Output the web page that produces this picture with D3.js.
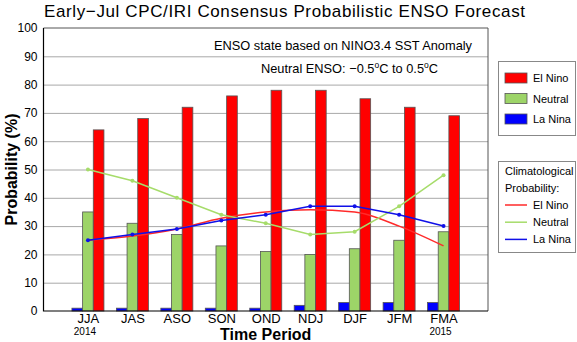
<!DOCTYPE html>
<html>
<head>
<meta charset="utf-8">
<script src="https://cdn.jsdelivr.net/npm/d3@7"></script>
<style>
  body { margin: 0; background: #fff; }
  svg text { font-family: "Liberation Sans", Arial, sans-serif; }
</style>
</head>
<body>
<div id="chart"></div>
<script>
// data
const periods = ["JJA", "JAS", "ASO", "SON", "OND", "NDJ", "DJF", "JFM", "FMA"];
const elNino = [64, 68, 72, 76, 78, 78, 75, 72, 69];
const neutral = [35, 31, 27, 23, 21, 20, 22, 25, 28];
const laNina = [1, 1, 1, 1, 1, 2, 3, 3, 3];
// climatological probability lines
const climElNino = [25, 26.5, 29, 32.8, 35, 35.8, 35, 30, 23];
const climNeutral = [50, 46, 40, 34, 31, 27, 28, 37, 48];
const climLaNina = [25, 27, 29, 32, 34, 37, 37, 34, 30];
const yTicks = [0, 10, 20, 30, 40, 50, 60, 70, 80, 90, 100];

(function(){

  const width = 577, height = 342;
  const pLeft = 43.5, pRight = 488, pTop = 28, pBottom = 311;

  const svg = d3.select("#chart").append("svg")
    .attr("width", width)
    .attr("height", height);

  const x = d3.scaleLinear().domain([0, 10]).range([pLeft, pRight]);
  const y = d3.scaleLinear().domain([0, 100]).range([pBottom, pTop]);
  // offset of each bar inside a period
  const xb = d3.scaleBand().domain(["La Nina", "Neutral", "El Nino"]).range([-16, 16]);

  const colors = {"El Nino": "#ff0000", "Neutral": "#9dd468", "La Nina": "#0000ff"};
  const lineColors = {"El Nino": "#ff2a2a", "Neutral": "#a6dc6a", "La Nina": "#1010e8"};

  // title
  svg.append("text")
    .attr("x", 44).attr("y", 17)
    .attr("font-size", 17)
    .attr("textLength", 481)
    .text("Early\u2212Jul CPC/IRI Consensus Probabilistic ENSO Forecast");

  // gridlines
  svg.append("g")
    .attr("transform", `translate(${pLeft},0)`)
    .call(d3.axisLeft(y).tickValues(yTicks.slice(1, -1)).tickSize(-(pRight - pLeft)).tickFormat(""))
    .call(g => g.select(".domain").remove())
    .call(g => g.selectAll("line").attr("stroke", "#a8a8a8"));

  // y axis labels
  svg.append("g")
    .attr("transform", `translate(${pLeft},0)`)
    .call(d3.axisLeft(y).tickValues(yTicks).tickSize(0).tickPadding(6))
    .call(g => g.select(".domain").remove())
    .call(g => g.selectAll("text").attr("font-size", 12).attr("fill", "#000")
      .attr("font-family", "Liberation Sans, Arial, sans-serif"));

  // annotations
  const note = svg.append("g").attr("font-size", 12.8);
  note.append("text").attr("x", 472).attr("y", 50).attr("text-anchor", "end")
    .text("ENSO state based on NINO3.4 SST Anomaly");
  const t2 = note.append("text").attr("x", 438).attr("y", 73).attr("text-anchor", "end");
  t2.append("tspan").text("Neutral ENSO: \u22120.5");
  t2.append("tspan").attr("dy", -5).attr("font-size", 8.5).text("o");
  t2.append("tspan").attr("dy", 5).text("C to 0.5");
  t2.append("tspan").attr("dy", -5).attr("font-size", 8.5).text("o");
  t2.append("tspan").attr("dy", 5).text("C");

  // bars
  const rows = periods.map((p, i) => ({
    i: i + 1,
    vals: [["La Nina", laNina[i]], ["Neutral", neutral[i]], ["El Nino", elNino[i]]]
  }));

  const groups = svg.append("g").selectAll("g")
    .data(rows)
    .enter().append("g")
    .attr("transform", d => `translate(${x(d.i)},0)`);

  groups.selectAll("rect")
    .data(d => d.vals)
    .enter().append("rect")
    .attr("x", d => xb(d[0]))
    .attr("y", d => y(d[1]))
    .attr("width", xb.bandwidth())
    .attr("height", d => y(0) - y(d[1]))
    .attr("fill", d => colors[d[0]])
    .attr("stroke", "#555")
    .attr("stroke-width", 0.8);

  // climatology lines
  svg.append("path")
    .datum(climElNino)
    .attr("fill", "none")
    .attr("stroke", lineColors["El Nino"])
    .attr("stroke-width", 1.5)
    .attr("d", d3.line().x((d, i) => x(i + 1)).y(d => y(d)).curve(d3.curveMonotoneX));

  [["Neutral", climNeutral], ["La Nina", climLaNina]].forEach(([name, vals]) => {
    svg.append("path")
      .datum(vals)
      .attr("fill", "none")
      .attr("stroke", lineColors[name])
      .attr("stroke-width", 1.5)
      .attr("d", d3.line().x((d, i) => x(i + 1)).y(d => y(d)));
    svg.append("g").selectAll("circle")
      .data(vals)
      .enter().append("circle")
      .attr("cx", (d, i) => x(i + 1))
      .attr("cy", d => y(d))
      .attr("r", 2)
      .attr("fill", lineColors[name]);
  });

  // plot frame
  svg.append("path")
    .attr("d", `M${pLeft},${pTop}H${pRight}V${pBottom}`)
    .attr("fill", "none").attr("stroke", "#555").attr("stroke-width", 1);
  svg.append("path")
    .attr("d", `M${pLeft},${pTop}V${pBottom}H${pRight}`)
    .attr("fill", "none").attr("stroke", "#000").attr("stroke-width", 1.2);

  // x axis labels
  svg.append("g")
    .attr("transform", `translate(0,${pBottom})`)
    .call(d3.axisBottom(x).tickValues(d3.range(1, 10)).tickSize(0).tickPadding(3)
      .tickFormat(d => periods[d - 1]))
    .call(g => g.select(".domain").remove())
    .call(g => g.selectAll("text").attr("font-size", 13).attr("fill", "#000")
      .attr("font-family", "Liberation Sans, Arial, sans-serif"));

  svg.append("text").attr("x", x(1) - 3).attr("y", 335).attr("text-anchor", "middle")
    .attr("font-size", 10).text("2014");
  svg.append("text").attr("x", x(9) - 3).attr("y", 335).attr("text-anchor", "middle")
    .attr("font-size", 10).text("2015");

  svg.append("text").attr("x", x(5)).attr("y", 340).attr("text-anchor", "middle")
    .attr("font-size", 16).attr("font-weight", "bold").text("Time Period");

  svg.append("text")
    .attr("transform", `translate(17,${(pTop + pBottom) / 2}) rotate(-90)`)
    .attr("text-anchor", "middle")
    .attr("font-size", 16).attr("font-weight", "bold").text("Probability (%)");

  // legend: bars
  const legendNames = ["El Nino", "Neutral", "La Nina"];
  svg.append("rect").attr("x", 498.5).attr("y", 61.5).attr("width", 77).attr("height", 74)
    .attr("fill", "#fff").attr("stroke", "#888");
  legendNames.forEach((n, k) => {
    const yy = 73 + k * 20.5;
    svg.append("rect").attr("x", 505).attr("y", yy).attr("width", 22).attr("height", 10)
      .attr("fill", colors[n]).attr("stroke", "#555").attr("stroke-width", 0.8);
    svg.append("text").attr("x", 533).attr("y", yy + 9).attr("font-size", 11).text(n);
  });

  // legend: climatology
  svg.append("rect").attr("x", 498.5).attr("y", 161.5).attr("width", 77).attr("height", 91)
    .attr("fill", "#fff").attr("stroke", "#888");
  svg.append("text").attr("x", 505).attr("y", 175).attr("font-size", 11).text("Climatological");
  svg.append("text").attr("x", 505).attr("y", 192).attr("font-size", 11).text("Probability:");
  legendNames.forEach((n, k) => {
    const yy = 205 + k * 17.2;
    svg.append("line").attr("x1", 505).attr("x2", 527).attr("y1", yy).attr("y2", yy)
      .attr("stroke", lineColors[n]).attr("stroke-width", 1.5);
    svg.append("text").attr("x", 533).attr("y", yy + 4).attr("font-size", 11).text(n);
  });

})();
</script>
</body>
</html>
